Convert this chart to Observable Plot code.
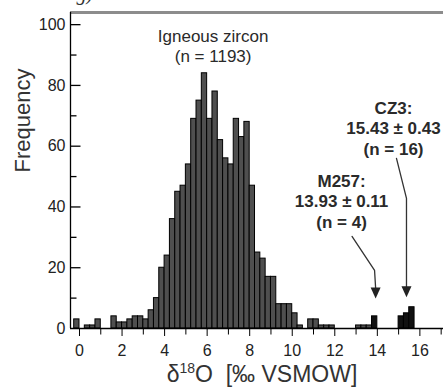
<!DOCTYPE html>
<html><head><meta charset="utf-8">
<script src="https://cdn.jsdelivr.net/npm/d3@7"></script>
<script src="https://cdn.jsdelivr.net/npm/@observablehq/plot@0.6"></script>
<style>
html,body{margin:0;padding:0;background:#fff;overflow:hidden;}
#chart svg{display:block;}
</style></head><body><div id="chart"></div>
<script>
// ---- data ----
const binWidth = 0.25;
const igneousBinStart = [-0.25,0,0.25,0.5,0.75,1,1.25,1.5,1.75,2,2.25,2.5,2.75,3,3.25,3.5,3.75,4,4.25,4.5,4.75,5,5.25,5.5,5.75,6,6.25,6.5,6.75,7,7.25,7.5,7.75,8,8.25,8.5,8.75,9,9.25,9.5,9.75,10,10.25,10.5,10.75,11,11.25,11.5,11.75,12,12.25,12.5,12.75,13,13.25,13.5];
const igneousCounts   = [3,0,1,1,3,0,0,4,2,2,3,4,4,3,6,10,20,24,36,45,47,54,69,75,84,69,78,62,56,54,69,63,68,47,25,23,17,17,8,8,8,5,1,0,3,3,1,1,1,0,0,0,0,1,1,1];
const standardBinStart = [13.75,15,15.25,15.5];
const standardCounts   = [4,4,5,7];

const xTicksMajor = [0,2,4,6,8,10,12,14,16];
const xTicksMinor = [1,3,5,7,9,11,13,15,17];
const yTicksMajor = [0,20,40,60,80,100];
const yTicksMinor = [10,30,50,70,90];

const labelIgneous = "Igneous zircon\n(n = 1193)";
const labelIgneousX = 6.28, labelIgneousY = 93.2;
const standardLabels = ["M257:\n13.93 \u00b1 0.11\n(n = 4)", "CZ3:\n15.43 \u00b1 0.43\n(n = 16)"];
const standardLabelX = [12.32, 14.76];
const standardLabelY = [42.1, 66.0];

const arrowPaths = [
  {name:"M257", pts:[[12.81,30.3],[13.87,19.1],[13.92,13.2]], tip:[13.92,9.9]},
  {name:"CZ3",  pts:[[14.90,56.0],[15.37,42.8],[15.37,13.5]], tip:[15.37,10.3]}
];

const xDomain = [-0.423, 17.11];
const yDomain = [0, 104];

// ---- tables ----
const igneous = igneousBinStart.map((s,i)=>({x1:s, x2:s+binWidth, y:igneousCounts[i]})).filter(d=>d.y>0);
const standards = standardBinStart.map((s,i)=>({x1:s, x2:s+binWidth, y:standardCounts[i]}));
const stdLabels = standardLabels.map((t,i)=>({text:t, x:standardLabelX[i], y:standardLabelY[i]}));
const arrowLines = arrowPaths.flatMap(a=>a.pts.map(p=>({name:a.name, x:p[0], y:p[1]})));
const arrowTips = arrowPaths.map(a=>({x:a.tip[0], y:a.tip[1]}));

const hTick = len => ({draw(ctx){ctx.moveTo(0,0); ctx.lineTo(len,0);}});
const vTick = len => ({draw(ctx){ctx.moveTo(0,0); ctx.lineTo(0,len);}});
const downTriangle = {draw(ctx){ctx.moveTo(-5,-11); ctx.lineTo(5,-11); ctx.lineTo(0,0); ctx.closePath();}};

const font = "'Liberation Sans', Arial, Helvetica, sans-serif";

const chart = Plot.plot({
  width: 443, height: 387,
  marginLeft: 70, marginRight: 0, marginTop: 12, marginBottom: 59,
  x: {domain: xDomain},
  y: {domain: yDomain},
  style: {fontFamily: font, background: "#fff", color: "#222", overflow: "visible"},
  marks: [
    Plot.rectY(igneous, {x1:"x1", x2:"x2", y:"y", fill:"#4f4f4f", stroke:"#000", strokeWidth:1, inset:0}),
    Plot.rectY(standards, {x1:"x1", x2:"x2", y:"y", fill:"#111", stroke:"#000", strokeWidth:1, inset:0}),
    Plot.ruleY([yDomain[1]], {stroke:"#8c8c8c", strokeWidth:3}),
    Plot.ruleY([0], {stroke:"#000", strokeWidth:1.3}),
    Plot.ruleX([xDomain[0]], {stroke:"#000", strokeWidth:1.3}),
    Plot.axisX({ticks: xTicksMajor, tickSize: 8, tickPadding: 8, fontSize: 16, label: null, stroke:"#000"}),
    Plot.dot(xTicksMinor, {x: d=>d, frameAnchor:"bottom", symbol: vTick(6), stroke:"#000", fill:"none", strokeWidth:1}),
    Plot.axisY({ticks: yTicksMajor, tickSize: 0, tickPadding: 5, fontSize: 16, label: null}),
    Plot.dot(yTicksMajor.slice(1), {y: d=>d, frameAnchor:"left", symbol: hTick(10), stroke:"#000", fill:"none", strokeWidth:1.3}),
    Plot.dot(yTicksMinor, {y: d=>d, frameAnchor:"left", symbol: hTick(6), stroke:"#000", fill:"none", strokeWidth:1.3}),
    Plot.text(["Frequency"], {frameAnchor:"left", dx:-48, dy:2, rotate:-90, fontSize:22, fill:"#333"}),
    Plot.text(["\u03b418O\u00a0 [\u2030 VSMOW]"], {frameAnchor:"bottom", dy:53, dx:5, fontSize:23, fill:"#333"}),
    Plot.text([labelIgneous], {x:()=>labelIgneousX, y:()=>labelIgneousY, text:d=>d, fontSize:17, lineHeight:1.2, fill:"#2a2a2a"}),
    Plot.text(stdLabels, {x:"x", y:"y", text:"text", fontWeight:"bold", fontSize:17, lineHeight:1.2, fill:"#2a2a2a"}),
    Plot.line(arrowLines, {x:"x", y:"y", z:"name", stroke:"#333", strokeWidth:1.3}),
    Plot.dot(arrowTips, {x:"x", y:"y", symbol: downTriangle, fill:"#222", stroke:"none"}),
    Plot.text(["g)"], {frameAnchor:"top-left", dx:6, dy:-13, lineAnchor:"bottom", textAnchor:"start", fontSize:20, fontStyle:"italic", fontFamily:"'Liberation Serif', serif", fill:"#333"})
  ]
});

// superscript the isotope mass number
d3.select(chart).selectAll("text").each(function(){
  const t = d3.select(this);
  if ((this.textContent||"").includes("VSMOW")) {
    const target = t.select("tspan").empty() ? t : t.select("tspan");
    target.text(null);
    target.append("tspan").text("\u03b4");
    target.append("tspan").attr("dy", -9).attr("font-size", "14px").text("18");
    target.append("tspan").attr("dy", 9).text("O\u00a0 [\u2030 VSMOW]");
  }
});

document.getElementById("chart").appendChild(chart);
</script>
</body></html>
